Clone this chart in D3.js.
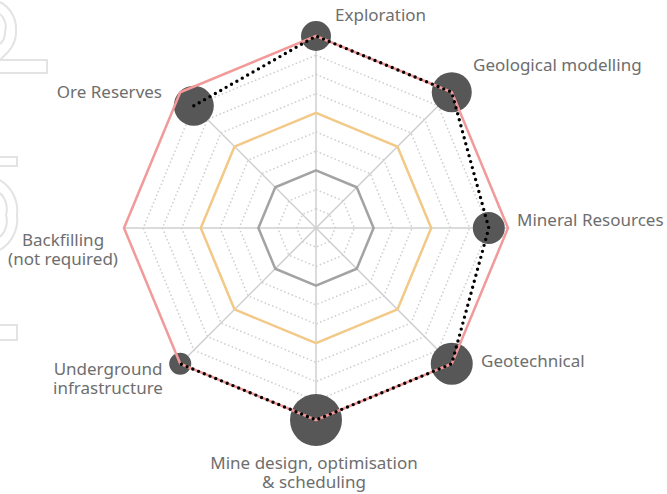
<!DOCTYPE html>
<html>
<head>
<meta charset="utf-8">
<script src="https://cdn.jsdelivr.net/npm/d3@7/dist/d3.min.js"></script>
<style>
  html, body { margin: 0; padding: 0; background: #fff; }
  svg { display: block; }
</style>
</head>
<body>
<svg id="chart" width="667" height="494"></svg>
<script>
// Study areas, clockwise from the top
const categories = [
  "Exploration",
  "Geological modelling",
  "Mineral Resources",
  "Geotechnical",
  "Mine design, optimisation\n& scheduling",
  "Underground\ninfrastructure",
  "Backfilling\n(not required)",
  "Ore Reserves"
];
// Assessed level per area (null = not assessed)
const assessed = [1.0, 1.0, 0.9, 1.0, 1.0, 1.0, null, 0.9];
// Relative weight of each area (bubble size)
const weight = [15, 20, 16, 21, 26, 11, null, 20];
// Reference rings
const ringLevels = [0.3, 0.6, 1.0];
const ringColors = ["#a3a3a3", "#f3c987", "#f29a9a"];
// Minor grid levels
const gridLevels = [0.1, 0.2, 0.3, 0.4, 0.5, 0.6, 0.7, 0.8, 0.9];

const svg = d3.select("#chart");
const cx = 316, cy = 228, R = 192;
const n = categories.length;

const r = d3.scaleLinear().domain([0, 1]).range([0, R]);
const angle = d3.scaleLinear().domain([0, n]).range([0, 2 * Math.PI]);
const size = d3.scaleLinear().domain([0, 30]).range([0, 30]);

const pt = (i, v) => [cx + r(v) * Math.sin(angle(i)), cy - r(v) * Math.cos(angle(i))];
const ring = v => d3.line()(d3.range(n).map(i => pt(i, v))) + "Z";

// Faint decorative outlines at the left edge
const deco = svg.append("g").attr("fill", "none").attr("stroke", "#e3e3e3").attr("stroke-width", 2);
deco.append("path").attr("d", "M0,2 A30,30 0 0 1 16,30 A30,30 0 0 1 8,52 L0,60");
deco.append("path").attr("d", "M0,14 A14,16 0 0 1 5,32 A16,16 0 0 1 0,44");
deco.append("path").attr("d", "M0,60 L47,60 L47,73 L0,73");
deco.append("path").attr("d", "M0,157 L17,157 L17,166 L0,166");
deco.append("path").attr("d", "M0,180 A36,36 0 0 1 17,215 A36,36 0 0 1 0,250");
deco.append("path").attr("d", "M0,193 A22,22 0 0 1 6,215 A22,22 0 0 1 0,237");
deco.append("path").attr("d", "M0,325 L17,325 L17,340 L0,340");

// Dotted grid
svg.append("g").selectAll("path").data(gridLevels).join("path")
  .attr("d", d => ring(d))
  .attr("fill", "none")
  .attr("stroke", "#cdcdcd")
  .attr("stroke-width", 1.5)
  .attr("stroke-dasharray", "1.5 2.5");

// Spokes
svg.append("g").selectAll("line").data(d3.range(n)).join("line")
  .attr("x1", cx).attr("y1", cy)
  .attr("x2", i => pt(i, 1)[0]).attr("y2", i => pt(i, 1)[1])
  .attr("stroke", "#cfcfcf").attr("stroke-width", 1.5);

// Bubbles
const pts = d3.range(n).filter(i => assessed[i] != null);
svg.append("g").selectAll("circle").data(pts).join("circle")
  .attr("cx", i => pt(i, assessed[i])[0])
  .attr("cy", i => pt(i, assessed[i])[1])
  .attr("r", i => size(weight[i]))
  .attr("fill", "#575757");

// Reference rings
svg.append("g").selectAll("path").data(ringLevels).join("path")
  .attr("d", d => ring(d))
  .attr("fill", "none")
  .attr("stroke", (d, i) => ringColors[i])
  .attr("stroke-width", 2.5)
  .attr("stroke-linejoin", "round");

// Assessed profile (open, skipping the unassessed area)
const order = [7, 0, 1, 2, 3, 4, 5];
svg.append("path")
  .attr("d", d3.line()(order.map(i => pt(i, assessed[i]))))
  .attr("fill", "none")
  .attr("stroke", "#000")
  .attr("stroke-width", 3.4)
  .attr("stroke-linecap", "round")
  .attr("stroke-dasharray", "0 6.2");

// Labels
const labelPos = [
  { x: 335, y: 21, anchor: "start" },
  { x: 473, y: 71, anchor: "start" },
  { x: 517, y: 226, anchor: "start" },
  { x: 481, y: 367, anchor: "start" },
  { x: 314, y: 469, anchor: "middle" },
  { x: 108, y: 375, anchor: "middle" },
  { x: 63, y: 246, anchor: "middle" },
  { x: 162, y: 98, anchor: "end" }
];
const lab = svg.append("g")
  .attr("font-family", "'Noto Sans', sans-serif")
  .attr("font-size", 17)
  .attr("fill", "#6e6e6e");
categories.forEach((c, i) => {
  const t = lab.append("text")
    .attr("x", labelPos[i].x).attr("y", labelPos[i].y)
    .attr("text-anchor", labelPos[i].anchor);
  c.split("\n").forEach((s, k) => {
    t.append("tspan").attr("x", labelPos[i].x).attr("dy", k === 0 ? 0 : 19).text(s);
  });
});
</script>
</body>
</html>
